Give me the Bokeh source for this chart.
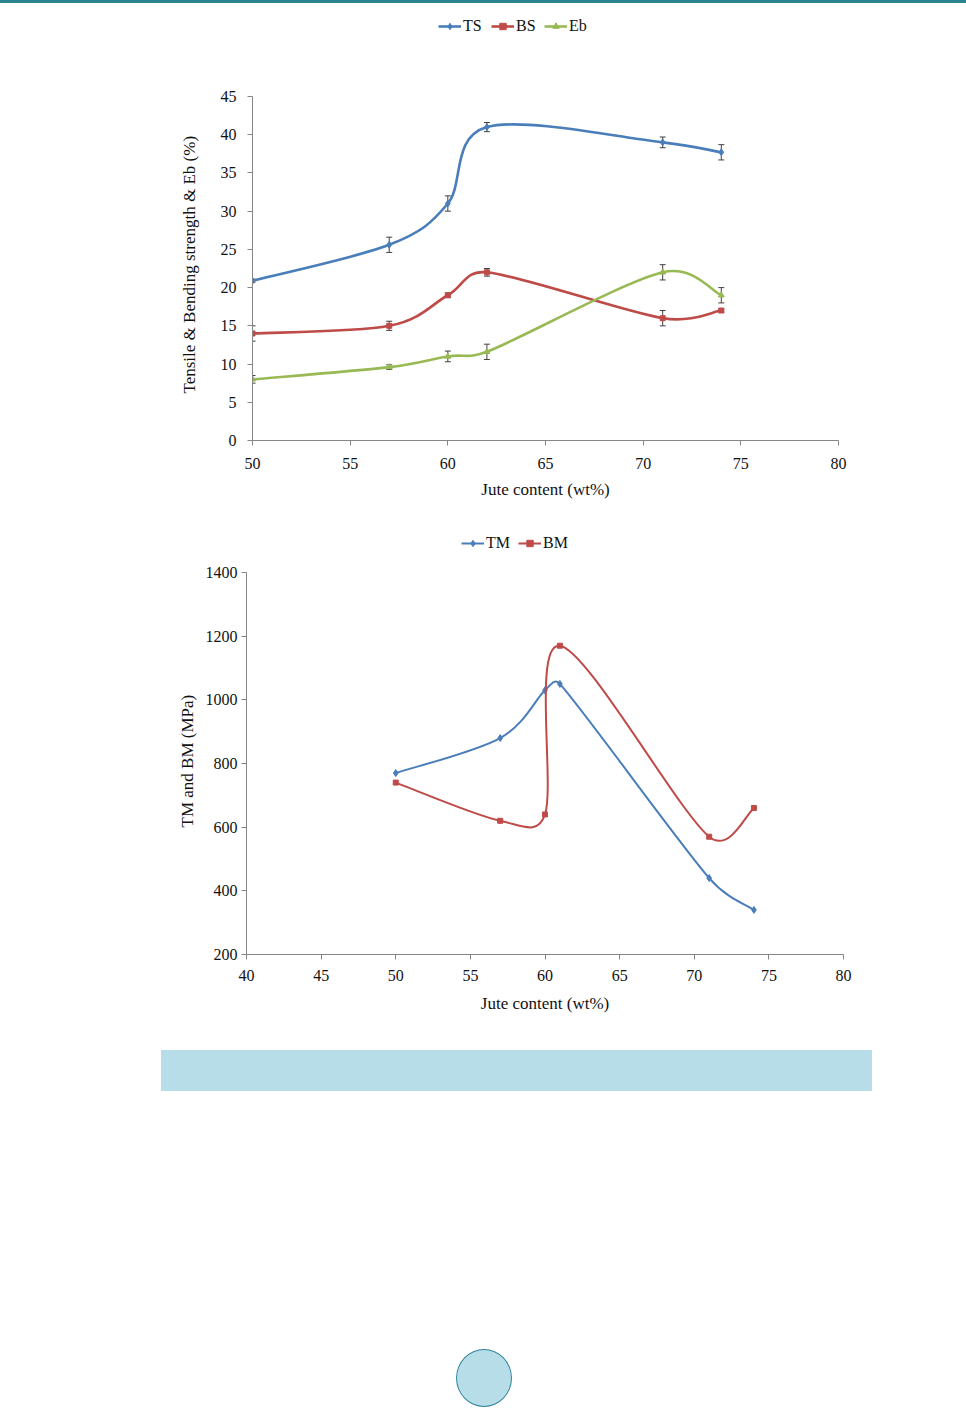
import numpy as np
from bokeh.plotting import figure
from bokeh.models import (Legend, LegendItem, Whisker, ColumnDataSource, Div,
                          FixedTicker, TeeHead, Range1d, Title)
from bokeh.layouts import column
from bokeh.embed import file_html
from bokeh.resources import INLINE

# ---------------- data ----------------
jute1 = [50, 57, 60, 62, 71, 74]
ts = [20.9, 25.6, 31.0, 41.0, 39.0, 37.7]
ts_err = [0.2, 1.0, 1.0, 0.6, 0.7, 1.0]
bs = [14.0, 15.0, 19.0, 22.0, 16.0, 17.0]
bs_err = [1.0, 0.6, 0.3, 0.5, 1.0, 0.2]
eb = [8.0, 9.6, 11.0, 11.6, 22.0, 19.0]
eb_err = [0.5, 0.3, 0.7, 1.0, 1.0, 1.0]

jute2 = [50, 57, 60, 61, 71, 74]
tm = [770, 880, 1030, 1050, 440, 340]
bm = [740, 620, 640, 1170, 570, 660]

x1_ticks = [50, 55, 60, 65, 70, 75, 80]
y1_ticks = [0, 5, 10, 15, 20, 25, 30, 35, 40, 45]
x2_ticks = [40, 45, 50, 55, 60, 65, 70, 75, 80]
y2_ticks = [200, 400, 600, 800, 1000, 1200, 1400]

BLUE = "#4a7ebb"
RED = "#be4b48"
GREEN = "#98b954"
AXIS = "#868686"
FONT = "Liberation Serif"
W = 966


def smooth_segments(xs, ys, sx, sy):
    """Excel-like smoothed line: Catmull-Rom style Bezier segments whose
    control arms are capped at half the chord length (screen pixels)."""
    X = np.asarray(xs, float) * sx
    Y = np.asarray(ys, float) * sy
    n = len(X)
    Xp = np.concatenate([[X[0]], X, [X[-1]]])
    Yp = np.concatenate([[Y[0]], Y, [Y[-1]]])
    d = dict(x0=[], y0=[], x1=[], y1=[], cx0=[], cy0=[], cx1=[], cy1=[])
    for i in range(n - 1):
        a, b = i + 1, i + 2
        chord = np.hypot(Xp[b] - Xp[a], Yp[b] - Yp[a])
        ax_, ay_ = (Xp[b] - Xp[a - 1]) / 6.0, (Yp[b] - Yp[a - 1]) / 6.0
        bx_, by_ = (Xp[b + 1] - Xp[a]) / 6.0, (Yp[b + 1] - Yp[a]) / 6.0
        la, lb = np.hypot(ax_, ay_), np.hypot(bx_, by_)
        if la > chord / 2 and la > 0:
            ax_, ay_ = ax_ * chord / 2 / la, ay_ * chord / 2 / la
        if lb > chord / 2 and lb > 0:
            bx_, by_ = bx_ * chord / 2 / lb, by_ * chord / 2 / lb
        d["x0"].append(Xp[a] / sx); d["y0"].append(Yp[a] / sy)
        d["x1"].append(Xp[b] / sx); d["y1"].append(Yp[b] / sy)
        d["cx0"].append((Xp[a] + ax_) / sx); d["cy0"].append((Yp[a] + ay_) / sy)
        d["cx1"].append((Xp[b] - bx_) / sx); d["cy1"].append((Yp[b] - by_) / sy)
    return ColumnDataSource(d)


def style(p, xt, yt, fs, lfs, ybounds):
    p.xgrid.visible = False
    p.ygrid.visible = False
    p.outline_line_color = None
    p.xaxis.ticker = FixedTicker(ticks=xt)
    p.yaxis.ticker = FixedTicker(ticks=yt)
    p.yaxis.bounds = ybounds
    for ax in (p.xaxis[0], p.yaxis[0]):
        ax.axis_line_color = AXIS
        ax.major_tick_line_color = AXIS
        ax.minor_tick_line_color = None
        ax.major_tick_out = 5
        ax.major_tick_in = 0
        ax.major_label_text_font = FONT
        ax.major_label_text_font_size = fs
        ax.major_label_text_color = "#111111"
        ax.axis_label_text_font = FONT
        ax.axis_label_text_font_size = lfs
        ax.axis_label_text_font_style = "normal"
        ax.axis_label_text_color = "#111111"


def y_title(p, text, offset, standoff):
    # y-axis title placed along the 0..max part of the axis only
    p.add_layout(Title(text=text, align="left", offset=offset, standoff=standoff,
                       text_font=FONT, text_font_size="17px",
                       text_font_style="normal", text_color="#111111"), "left")


def add_series(p, xs, ys, color, marker, msize, lw, sx, sy, err=None):
    src = smooth_segments(xs, ys, sx, sy)
    r_line = p.bezier(x0="x0", y0="y0", x1="x1", y1="y1", cx0="cx0", cy0="cy0",
                      cx1="cx1", cy1="cy1", source=src, line_color=color, line_width=lw)
    r_mark = p.scatter(xs, ys, marker=marker, size=msize, fill_color=color, line_color=color)
    if err is not None:
        es = ColumnDataSource(dict(x=xs, lo=[a - b for a, b in zip(ys, err)],
                                   hi=[a + b for a, b in zip(ys, err)]))
        w = Whisker(base="x", lower="lo", upper="hi", source=es, line_color="#404040",
                    line_width=1,
                    upper_head=TeeHead(size=6, line_color="#404040", line_width=1),
                    lower_head=TeeHead(size=6, line_color="#404040", line_width=1))
        p.add_layout(w)
    return [r_line, r_mark]


def make_legend(items, loc):
    return Legend(items=items, orientation="horizontal", location=loc,
                  background_fill_alpha=0, border_line_alpha=0, padding=0, margin=0,
                  spacing=8, glyph_width=23, glyph_height=16, label_standoff=2,
                  label_text_font=FONT, label_text_font_size="16px",
                  label_text_color="#111111", label_height=16)


# ---------------- top strip ----------------
top = Div(width=W, height=3, margin=0, styles={"background-color": "#2c8391"})

# ---------------- chart 1 ----------------
# frame spans 8..440 px; values 0..45 occupy 96..440 px, legend sits above them
fh1 = 432
sy1 = 344 / 45.0
sx1 = 586 / 30.0
y1_end = 45 + (fh1 - 344) / sy1
p1 = figure(width=W, height=502, output_backend="svg", toolbar_location=None,
            x_range=Range1d(50, 80), y_range=Range1d(0, y1_end),
            min_border_left=252, min_border_right=W - 252 - 586, min_border_top=5,
            min_border_bottom=65, frame_width=586, frame_height=fh1)
style(p1, x1_ticks, y1_ticks, "16px", "17px", (0, 45))
p1.xaxis.axis_label = "Jute content (wt%)"
p1.xaxis.major_label_standoff = 12
p1.yaxis.major_label_standoff = 11
p1.xaxis.axis_label_standoff = 8
y_title(p1, "Tensile & Bending strength & Eb (%)", 47, 37)

r_ts = add_series(p1, jute1, ts, BLUE, "diamond", 7, 2.6, sx1, sy1, ts_err)
r_bs = add_series(p1, jute1, bs, RED, "square", 5, 2.6, sx1, sy1, bs_err)
r_eb = add_series(p1, jute1, eb, GREEN, "triangle", 6, 2.6, sx1, sy1, eb_err)
p1.add_layout(make_legend([LegendItem(label="TS", renderers=r_ts),
                           LegendItem(label="BS", renderers=r_bs),
                           LegendItem(label="Eb", renderers=r_eb)], (186, 405)))

# ---------------- chart 2 ----------------
fh2 = 444
sy2 = 382 / 1200.0
sx2 = 597 / 40.0
y2_end = 1400 + (fh2 - 382) / sy2
p2 = figure(width=W, height=515, output_backend="svg", toolbar_location=None,
            x_range=Range1d(40, 80), y_range=Range1d(200, y2_end),
            min_border_left=246, min_border_right=W - 246 - 597, min_border_top=5,
            min_border_bottom=66, frame_width=597, frame_height=fh2)
style(p2, x2_ticks, y2_ticks, "16px", "17px", (200, 1400))
p2.xaxis.axis_label = "Jute content (wt%)"
p2.xaxis.major_label_standoff = 10
p2.yaxis.major_label_standoff = 4
p2.xaxis.axis_label_standoff = 10
y_title(p2, "TM and BM (MPa)", 127, 11)

r_tm = add_series(p2, jute2, tm, BLUE, "diamond", 7, 2.0, sx2, sy2)
r_bm = add_series(p2, jute2, bm, RED, "square", 5, 2.0, sx2, sy2)
p2.add_layout(make_legend([LegendItem(label="TM", renderers=r_tm),
                           LegendItem(label="BM", renderers=r_bm)], (215, 402)))

# ---------------- bottom decoration ----------------
bottom = Div(width=W, height=387, margin=0, text=(
    '<div style="position:relative;width:966px;height:387px;">'
    '<div style="position:absolute;left:161px;top:30px;width:711px;height:41px;'
    'background:#b7dee8;"></div>'
    '<div style="position:absolute;left:456px;top:329px;width:56px;height:58px;'
    'border-radius:50%;background:#b7dee8;border:1.5px solid #31859c;'
    'box-sizing:border-box;"></div></div>'))

layout = column(top, p1, column(p2, spacing=0), bottom, spacing=0)
open("out.html", "w").write(file_html(layout, INLINE))
